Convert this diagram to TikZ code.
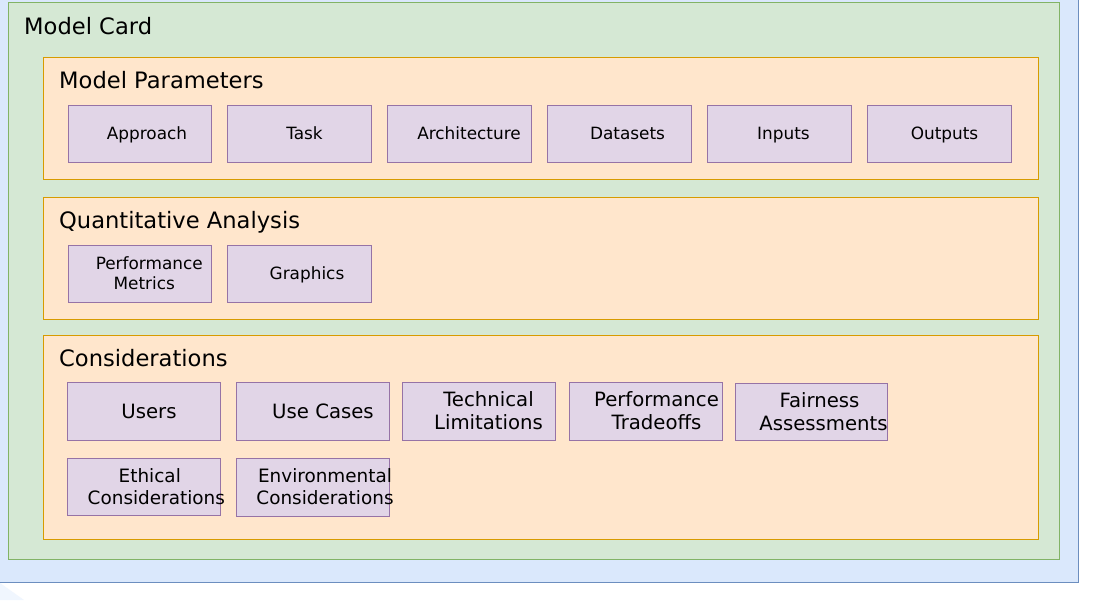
\documentclass[tikz,border=0pt]{standalone}
\usepackage{fontspec}
\setmainfont{DejaVu Sans}
\definecolor{bluefill}{HTML}{DAE8FC}
\definecolor{blueline}{HTML}{6C8EBF}
\definecolor{greenfill}{HTML}{D5E8D4}
\definecolor{greenline}{HTML}{82B366}
\definecolor{orangefill}{HTML}{FFE6CC}
\definecolor{orangeline}{HTML}{D79B00}
\definecolor{purplefill}{HTML}{E1D5E7}
\definecolor{purpleline}{HTML}{9673A6}
\tikzset{
  outerbox/.style={fill=bluefill,draw=blueline,line width=0.8pt},
  cardbox/.style={fill=greenfill,draw=greenline,line width=0.8pt},
  groupbox/.style={fill=orangefill,draw=orangeline,line width=0.8pt},
  itembox/.style={fill=purplefill,draw=purpleline,line width=0.8pt},
  titletext/.style={anchor=west,inner sep=0pt,text height=17.2pt,text depth=5.4pt,font=\fontsize{22.6}{26}\selectfont},
  smalltext/.style={inner sep=0pt,text height=12.8pt,text depth=4.06pt,font=\fontsize{16.9}{20}\selectfont},
  smalltwo/.style={align=center,inner sep=0pt,font=\fontsize{16.9}{20}\selectfont},
  midtext/.style={inner sep=0pt,text height=15pt,text depth=4.7pt,font=\fontsize{19.7}{23}\selectfont},
  midtwo/.style={align=center,inner sep=0pt,font=\fontsize{19.7}{23}\selectfont},
  lowtwo/.style={align=center,inner sep=0pt,font=\fontsize{18.4}{22}\selectfont},
}
\begin{document}
\begin{tikzpicture}[x=1pt,y=-1pt]
\useasboundingbox (0,0) rectangle (1100,600);
\clip (0,0) rectangle (1100,600);
\fill[white] (0,0) rectangle (1100,600);
% outer blue container
\draw[outerbox] (-20,-20) rectangle (1078,582);
\fill[bluefill!40!white] (0,583) -- (0,600) -- (24,600) -- cycle;
% model card
\draw[cardbox] (8,2) rectangle (1059,559);
\node[titletext] (mc) at (24,28.7) {Model Card};
% group 1
\draw[groupbox] (43,57) rectangle (1038,179);
\node[titletext] (mp) at (59,82.7) {Model Parameters};
\draw[itembox] (68,105) rectangle (211,162);
\node[smalltext] (p1) at (147,135.5) {Approach};
\foreach \x/\dx/\t [count=\i from 2] in {227/77.5/Task,387/82/Architecture,547/80.5/Datasets,707/76.5/Inputs,867/77.5/Outputs}{
  \draw[itembox] (\x,105) rectangle ++(144,57);
  \node[smalltext] (p\i) at (\x+\dx,135.5) {\t};
}
% group 2
\draw[groupbox] (43,197) rectangle (1038,319);
\node[titletext] (qa) at (59,222.7) {Quantitative Analysis};
\draw[itembox] (68,245) rectangle (211,302);
\node[smalltwo] (q1) at (149.3,273.5) {Performance\\Metrics\hspace*{10pt}};
\draw[itembox] (227,245) rectangle (371,302);
\node[smalltext] (q2) at (307,275.5) {Graphics};
% group 3
\draw[groupbox] (43,335) rectangle (1038,539);
\node[titletext] (co) at (59,360.7) {Considerations};
\draw[itembox] (67,382) rectangle (220,440);
\node[midtext] (c1) at (149,413.1) {Users};
\draw[itembox] (236,382) rectangle (389,440);
\node[midtext] (c2) at (323,413.1) {Use Cases};
\draw[itembox] (402,382) rectangle (555,440);
\node[midtwo] (c3) at (488.5,411) {Technical\\Limitations};
\draw[itembox] (569,382) rectangle (722,440);
\node[midtwo] (c4) at (656.5,411) {Performance\\Tradeoffs};
\draw[itembox] (735,383) rectangle (887,440);
\node[midtwo] (c5) at (823.5,411.5) {Fairness\hspace*{8pt}\\Assessments};
\draw[itembox] (67,458) rectangle (220,515);
\node[lowtwo] (c6) at (156.3,487) {Ethical\hspace*{13pt}\\Considerations};
\draw[itembox] (236,458) rectangle (389,516);
\node[lowtwo] (c7) at (325,487) {Environmental\\Considerations};
\end{tikzpicture}
\end{document}
